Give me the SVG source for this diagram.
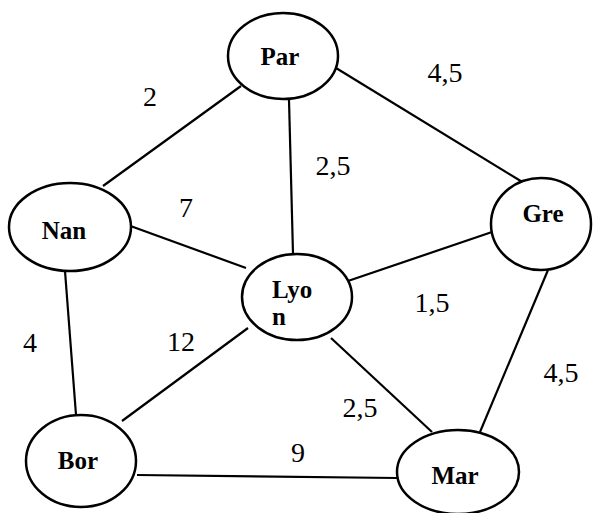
<svg xmlns="http://www.w3.org/2000/svg" width="595" height="513" viewBox="0 0 595 513">
<style>
.node ellipse{fill:#fff;stroke:#000;stroke-width:2.5}
.node text{font-family:'Liberation Serif','Times New Roman',serif;font-weight:bold;font-size:25px;fill:#000}
.edges line{stroke:#000;stroke-width:2.2}
.lbl{font-family:'Liberation Serif','Times New Roman',serif;font-size:28px;fill:#000;text-anchor:middle}
</style>
<rect width="595" height="513" fill="#fff"/>
<g id="edges" class="edges">
<line x1="241" y1="86" x2="103" y2="186"/>
<line x1="289" y1="100" x2="293" y2="254"/>
<line x1="336" y1="68" x2="524" y2="183"/>
<line x1="125" y1="224" x2="246" y2="268"/>
<line x1="65" y1="271" x2="76" y2="415"/>
<line x1="345" y1="282" x2="492" y2="232"/>
<line x1="248" y1="328" x2="122" y2="421"/>
<line x1="331" y1="338" x2="432" y2="432"/>
<line x1="548" y1="270" x2="480" y2="432"/>
<line x1="137" y1="475" x2="397" y2="478"/>
</g>
<g id="labels">
<text class="lbl" x="150" y="106">2</text>
<text class="lbl" x="445" y="82">4,5</text>
<text class="lbl" x="333" y="175">2,5</text>
<text class="lbl" x="186" y="217">7</text>
<text class="lbl" x="432" y="312">1,5</text>
<text class="lbl" x="30" y="352">4</text>
<text class="lbl" x="181" y="351">12</text>
<text class="lbl" x="561" y="382">4,5</text>
<text class="lbl" x="360" y="417">2,5</text>
<text class="lbl" x="298" y="462">9</text>
</g>
<g id="node-par" class="node"><ellipse cx="283" cy="56" rx="55" ry="43"/><text x="280" y="65" text-anchor="middle">Par</text></g>
<g id="node-nan" class="node"><ellipse cx="70" cy="227" rx="61" ry="44"/><text x="64" y="239" text-anchor="middle">Nan</text></g>
<g id="node-lyon" class="node"><ellipse cx="297" cy="297" rx="55" ry="43"/><text x="272" y="298">Lyo</text><text x="272" y="325">n</text></g>
<g id="node-gre" class="node"><ellipse cx="541" cy="224" rx="50" ry="46"/><text x="543" y="222" text-anchor="middle">Gre</text></g>
<g id="node-bor" class="node"><ellipse cx="81" cy="461" rx="55" ry="46"/><text x="78" y="469" text-anchor="middle">Bor</text></g>
<g id="node-mar" class="node"><ellipse cx="458" cy="472" rx="61" ry="42"/><text x="455" y="484" text-anchor="middle">Mar</text></g>
</svg>
